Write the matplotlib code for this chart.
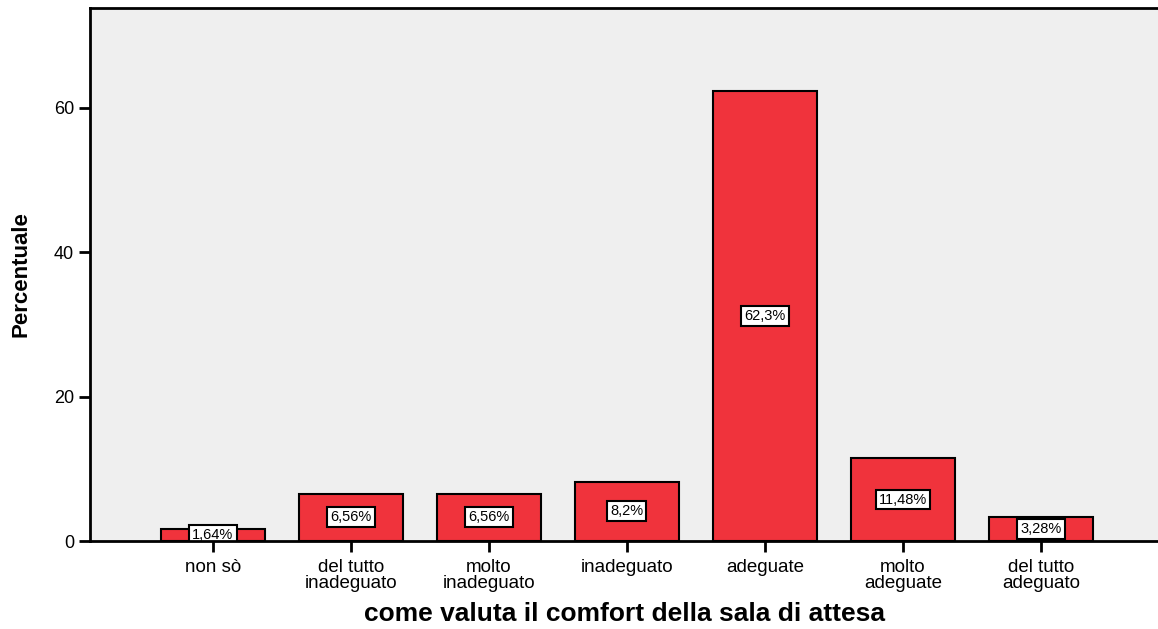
import matplotlib.pyplot as plt
import numpy as np

categories = ["non sò", "del tutto\ninadeguato", "molto\ninadeguato", "inadeguato",
              "adeguate", "molto\nadeguate", "del tutto\nadeguato"]
values = [1.64, 6.56, 6.56, 8.2, 62.3, 11.48, 3.28]
value_labels = ["1,64%", "6,56%", "6,56%", "8,2%", "62,3%", "11,48%", "3,28%"]

plt.rcParams['font.family'] = ['Liberation Sans', 'DejaVu Sans']

fig = plt.figure(figsize=(11.58, 6.29), dpi=100)
ax = fig.add_axes([90 / 1158, 1 - 541 / 629, 1 - 90 / 1158, (541 - 8) / 629])
ax.set_facecolor('#efefef')

x = np.arange(len(categories))
ax.bar(x, values, width=0.75, color='#f0333c', edgecolor='black', linewidth=1.5, zorder=2)

# value boxes in the middle of each bar (clipped by the axes like the original)
for xi, v, lab in zip(x, values, value_labels):
    ax.text(xi, v / 2, lab, ha='center', va='center', fontsize=10.5, zorder=2.2,
            clip_on=True,
            bbox=dict(boxstyle='square,pad=0.2', facecolor='white', edgecolor='black', linewidth=1.5))

ax.set_xlim(-0.891, 6.848)
ax.set_ylim(0, 73.85)
ax.set_xticks(x)
ax.set_xticklabels(categories, fontsize=13.5, linespacing=0.92)
ax.set_yticks([0, 20, 40, 60])
ax.tick_params(axis='y', labelsize=13, length=8, width=2, direction='out')
ax.tick_params(axis='x', length=8, width=2, direction='out', pad=5)

for side in ['left', 'bottom', 'top']:
    ax.spines[side].set_linewidth(2)
ax.spines['right'].set_visible(False)

ax.set_xlabel('come valuta il comfort della sala di attesa', fontsize=19, fontweight='bold', labelpad=7)
ax.set_ylabel('Percentuale', fontsize=16, fontweight='bold', labelpad=16)

plt.savefig('out.png', dpi=100)
